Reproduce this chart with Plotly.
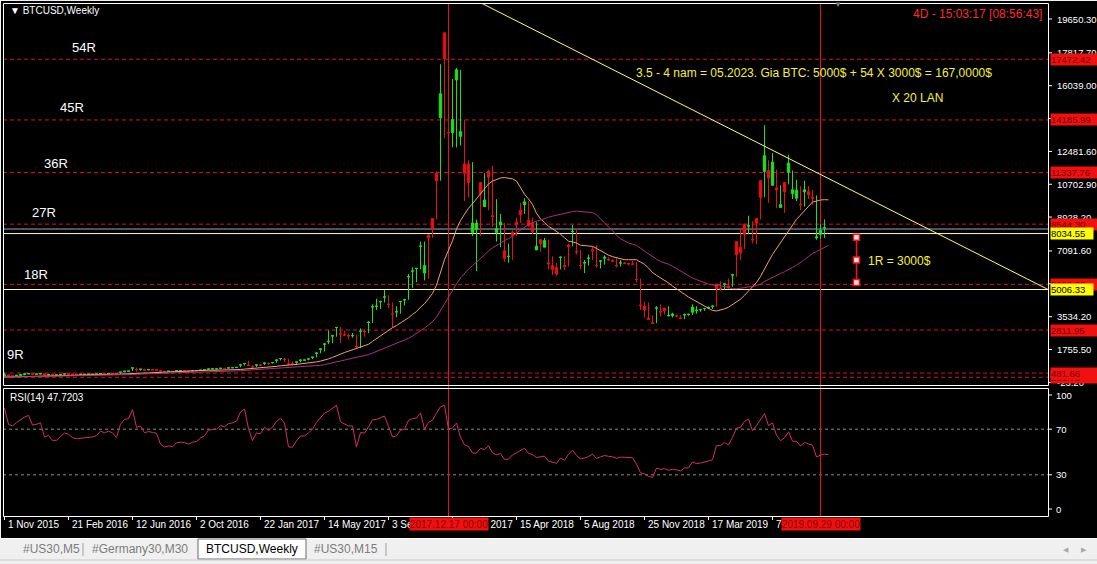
import pandas as pd
import plotly.graph_objects as go

W, H = 1097, 564
def px(x): return x / W
def py(y): return 1 - y / H

# ---------------- data (weekly BTCUSD bars, week starting Sunday) ----------------
first_week = "2015-06-28"
opens = [250,260,290,275,289,285,262,258,230,228,240,230,231,235,238,247,270,285,
 325,385,330,325,360,390,435,460,422,430,450,385,400,376,405,435,430,415,410,412,415,420,421,428,455,450,460,455,443,530,580,590,760,670,
 690,650,665,660,655,590,570,580,575,605,610,608,600,612,617,640,655,700,705,708,740,735,765,772,790,925,
 998,900,820,920,915,1020,995,1055,1180,1270,1230,970,965,1080,1180,1185,1250,1340,1560,1780,2050,2200,2500,2950,2600,2550,2500,2510,1920,2750,2730,3230,4070,4100,4350,4600,4200,3700,3800,4350,4450,5700,6000,6150,7350,5900,7950,8850,11300,14300,18900,13500,
 13500,16350,13300,11800,11800,8100,8250,10800,9500,11400,9000,8100,8500,7100,6800,8100,8650,9300,9600,8750,8600,7150,7700,7300,6450,6300,6200,6750,6300,7400,8150,7050,6300,6450,6700,7150,6300,6550,6700,6620,6550,6300,6450,6420,6400,6380,5550,4150,4100,3450,3200,4000,3800,
 4000,3580,3600,3580,3450,3630,3650,3780,3860,3900,3980,4010,4100,5300,5050,5300,5200,5800,7600,7300,8550,8450,7700,8850,10900,11400,11450,10650,10500,9450,10800,11350,10200,9950,9600,10300,10300,10000,7800,8000,8330]
highs = [265,310,295,292,298,286,272,260,236,242,245,235,240,241,250,275,290,335,
 495,390,340,370,392,470,470,465,435,460,455,420,402,385,410,440,440,440,420,420,420,425,425,430,460,465,465,465,458,535,590,600,780,780,
 700,710,680,680,665,660,600,590,590,615,630,612,610,615,620,645,660,720,740,720,750,745,775,775,790,930,
 1000,1150,920,925,930,1040,1050,1065,1200,1290,1290,1250,1100,1090,1210,1210,1280,1350,1610,1840,2100,2800,2550,2980,2980,2780,2620,2650,2550,2900,2850,3300,4200,4500,4400,4980,4700,4300,4100,4380,4500,5850,6200,6170,7600,7600,8000,8800,11400,17200,18100,19650,16400,
 17000,16900,14200,12000,11900,8800,10400,11300,11500,11700,9900,9100,8600,7500,8200,8900,9700,9950,9800,8900,8650,7750,7800,7700,6800,6450,6800,6800,7500,8500,8300,7150,6600,6900,7350,7400,6600,6850,6750,6650,6700,6600,6500,6450,6550,6500,5600,4350,4300,3600,4100,4200,3950,
 4100,3750,3650,3600,3700,3700,4200,4100,3950,4000,4100,4150,5100,5450,5350,5600,5850,7500,8300,8200,9000,8700,8800,10500,13900,12000,12400,11500,10650,10400,12300,11450,10950,10600,10900,10600,10400,10100,8550,8800,8420]
lows = [248,255,270,270,282,258,256,195,200,225,228,225,226,234,236,245,265,280,
 320,300,315,315,350,385,425,420,415,425,360,365,365,365,370,400,400,405,400,405,405,410,415,415,425,440,440,450,435,440,520,565,590,560,
 610,620,640,650,640,480,565,565,570,565,600,600,590,595,605,612,630,650,690,695,700,725,725,755,765,790,
 885,880,750,810,880,910,940,990,1045,1170,1100,950,890,930,1070,1160,1180,1240,1330,1550,1650,2050,2100,2450,2100,2500,2300,2400,1830,1830,2450,2650,3200,3900,3950,4300,4000,2950,3500,3700,4130,4450,5100,5400,6100,5500,5600,7800,8800,10900,13200,12600,12700,
 12700,12800,9800,10000,7900,6000,7900,9600,9300,8400,7600,7300,6500,6450,6600,7900,8600,9100,8400,8000,7300,7050,7550,6100,5800,5750,6100,6050,6250,7350,6900,6100,5900,6300,6600,6200,6150,6350,6550,6500,6200,6250,6400,6300,6350,5400,3900,3500,3350,3150,3180,3550,3650,
 3550,3500,3500,3400,3400,3580,3620,3700,3800,3850,3950,3950,4080,4950,5000,5050,5150,5700,6600,7200,8000,7500,7450,8800,10000,9700,11000,9400,9500,9150,10700,9900,9800,9300,9500,9900,9600,7700,7750,7800,8220]
closes = [260,290,275,289,285,262,258,230,228,240,230,231,235,238,247,270,285,325,
 385,330,325,360,390,435,460,422,430,450,385,400,375,376,405,435,430,415,410,412,415,420,421,428,455,450,460,455,443,530,580,590,760,670,
 690,650,665,660,655,590,570,580,575,605,610,608,600,612,617,640,655,700,705,708,740,735,765,772,790,925,998,
 900,820,920,915,1020,995,1055,1180,1270,1230,970,965,1080,1180,1185,1250,1340,1560,1780,2050,2200,2500,2950,2600,2550,2500,2510,1920,2750,2730,3230,4070,4100,4350,4600,4200,3700,3800,4350,4450,5700,6000,6150,7350,6300,7800,8300,10900,15600,17500,13500,14200,
 16900,13550,11300,10800,8600,8600,10200,9850,11100,8950,8300,8650,6700,6800,7950,8500,9050,9750,8450,8150,7350,7500,7650,6400,6100,5850,6750,6250,7350,8150,7050,6300,6450,6700,7100,6300,6550,6750,6620,6550,6300,6450,6420,6400,6380,5550,4150,3900,3400,3180,4000,3800,3850,
 3600,3680,3580,3450,3650,3660,4050,3880,3920,3980,4020,4100,5050,5050,5300,5150,5800,6900,7000,8000,8450,7700,8600,10000,12250,11050,11900,10400,9600,10300,11850,10400,10380,9600,10400,10150,9950,7850,8200,8350,8280]

ma_fast_period = 20
ma_slow_period = 40
rsi_period = 14

red_levels = [251.70, 481.66, 2811.95, 5283.28, 8544.30, 11337.76, 14185.99, 17472.42]
yellow_levels = [8034.55, 5006.33]
price_ticks = [19650.30, 17817.70, 16039.00, 14260.30, 12481.60, 10702.90, 8928.20, 7091.60, 5313.00, 3534.20, 1755.50, -23.20]
rsi_ticks = [100, 70, 30, 0]
rsi_levels = [70, 30]
rsi_label = "RSI(14) 47.7203"

vline_dates = ["2017-12-17", "2019-09-29"]
vline_labels = ["2017.12.17 00:00", "2019.09.29 00:00"]

time_tick_dates = ["2015-11-01", "2016-02-21", "2016-06-12", "2016-10-02", "2017-01-22", "2017-05-14",
                   "2017-09-03", "2017-12-24", "2018-04-15", "2018-08-05", "2018-11-25", "2019-03-17", "2019-07-07"]
time_tick_texts = ["1 Nov 2015", "21 Feb 2016", "12 Jun 2016", "2 Oct 2016", "22 Jan 2017", "14 May 2017",
                   "3 Sep 2017", "24 Dec 2017", "15 Apr 2018", "5 Aug 2018", "25 Nov 2018", "17 Mar 2019", "7 Jul 2019"]

trend_dates = ["2018-02-12", "2020-11-01"]
trend_prices = [20516, 4995]

r_marker_dates = ["2019-12-01", "2019-12-01", "2019-12-01"]
r_marker_prices = [7830, 6610, 5390]

r_texts = ["54R", "45R", "36R", "27R", "18R", "9R"]
r_text_pos = [(70, 47), (58, 108), (42, 163), (30, 212), (22, 274), (5, 354)]

note_main = "3.5 - 4 nam = 05.2023. Gia BTC: 5000$ + 54 X 3000$ = 167,0000$"
note_x20 = "X 20 LAN"
note_1r = "1R = 3000$"
timer_text = "4D - 15:03:17 [08:56:43]"
title_text = "▼ BTCUSD,Weekly"
tabs = ["#US30,M5", "#Germany30,M30", "BTCUSD,Weekly", "#US30,M15"]

# ---------------- derived indicators ----------------
weeks = pd.date_range(first_week, periods=len(closes), freq="7D")
close_s = pd.Series(closes, index=weeks, dtype=float)
ma_fast = close_s.rolling(ma_fast_period, min_periods=1).mean()
ma_slow = close_s.rolling(ma_slow_period, min_periods=1).mean()
delta = close_s.diff()
gain = delta.clip(lower=0)
loss = -delta.clip(upper=0)
ag = gain.ewm(alpha=1 / rsi_period, adjust=False).mean()
al = loss.ewm(alpha=1 / rsi_period, adjust=False).mean()
rsi = 100 - 100 / (1 + ag / al)

# ---------------- pixel <-> axis mapping (layout) ----------------
origin = pd.Timestamp("2015-11-01")
def xdate(X): return origin + pd.Timedelta(days=(X - 4.5) * 7 / 4)
def yprice(Y): return 19650.30 - (Y - 19) / 0.018472
def yrsi(Y): return 100 - (Y - 395) / 1.14

FONT = "Liberation Sans, Arial, sans-serif"
GREEN = "#1fe01f"
RED = "#ea1010"
LVL_RED = "#d8102c"

fig = go.Figure()
fig.add_trace(go.Candlestick(
    x=weeks, open=opens, high=highs, low=lows, close=closes,
    increasing=dict(line=dict(color=GREEN, width=1), fillcolor=GREEN),
    decreasing=dict(line=dict(color=RED, width=1), fillcolor=RED),
    whiskerwidth=0, hoverinfo="skip", xaxis="x", yaxis="y"))
fig.add_trace(go.Scatter(x=weeks, y=ma_fast, mode="lines", line=dict(color="#f4a468", width=1),
                         hoverinfo="skip", xaxis="x", yaxis="y"))
fig.add_trace(go.Scatter(x=weeks, y=ma_slow, mode="lines", line=dict(color="#a8327e", width=1),
                         hoverinfo="skip", xaxis="x", yaxis="y"))
fig.add_trace(go.Scatter(x=trend_dates, y=trend_prices, mode="lines", line=dict(color="#ffff60", width=1),
                         hoverinfo="skip", xaxis="x", yaxis="y"))
fig.add_trace(go.Scatter(x=r_marker_dates, y=r_marker_prices, mode="lines+markers",
                         line=dict(color="#ff1010", width=1.5),
                         marker=dict(symbol="square", size=6, color="#ffe8e8", line=dict(color="#ff1010", width=1.5)),
                         hoverinfo="skip", xaxis="x", yaxis="y"))
fig.add_trace(go.Scatter(x=weeks, y=rsi, mode="lines", line=dict(color="#d0306c", width=1),
                         hoverinfo="skip", xaxis="x2", yaxis="y2"))

shapes = []
# chart background
shapes.append(dict(type="rect", xref="paper", yref="paper", x0=px(1), x1=px(1097), y0=py(538), y1=py(1),
                   fillcolor="black", line=dict(width=0), layer="below"))
# level lines
for p in red_levels:
    shapes.append(dict(type="line", xref="paper", yref="y", x0=px(3), x1=px(1048), y0=p, y1=p,
                       line=dict(color=LVL_RED, width=1, dash="4px,3px"), layer="below"))
for p in yellow_levels:
    shapes.append(dict(type="line", xref="paper", yref="y", x0=px(3), x1=px(1048), y0=p, y1=p,
                       line=dict(color="#ffffa8", width=1), layer="below"))
shapes.append(dict(type="line", xref="paper", yref="y", x0=px(3), x1=px(1048), y0=closes[-1], y1=closes[-1],
                   line=dict(color="#9ea4c4", width=1), layer="below"))
for v in rsi_levels:
    shapes.append(dict(type="line", xref="paper", yref="y2", x0=px(3), x1=px(1048), y0=v, y1=v,
                       line=dict(color="#8a8a8a", width=1, dash="3px,3px"), layer="below"))
# vertical red lines
for d in vline_dates:
    shapes.append(dict(type="line", xref="x", yref="paper", x0=d, x1=d, y0=py(517), y1=py(3),
                       line=dict(color="#e8101c", width=1), layer="below"))
# panel borders
shapes.append(dict(type="rect", xref="paper", yref="paper", x0=px(3.5), x1=px(1048.5), y0=py(385.5), y1=py(3.5),
                   line=dict(color="white", width=1)))
shapes.append(dict(type="rect", xref="paper", yref="paper", x0=px(3.5), x1=px(1048.5), y0=py(516.5), y1=py(388.5),
                   line=dict(color="white", width=1)))
# price axis tick marks
for v in price_ticks:
    shapes.append(dict(type="line", xref="paper", yref="y", x0=px(1049), x1=px(1052), y0=v, y1=v,
                       line=dict(color="white", width=1)))
for v in rsi_ticks:
    shapes.append(dict(type="line", xref="paper", yref="y2", x0=px(1049), x1=px(1052), y0=v, y1=v,
                       line=dict(color="white", width=1)))
# time tick marks
for d in time_tick_dates:
    shapes.append(dict(type="line", xref="x2", yref="paper", x0=d, x1=d, y0=py(520), y1=py(516),
                       line=dict(color="white", width=1)))
# tab bar
shapes.append(dict(type="line", xref="paper", yref="paper", x0=0, x1=1, y0=py(538.5), y1=py(538.5),
                   line=dict(color="#ffffff", width=1)))
shapes.append(dict(type="rect", xref="paper", yref="paper", x0=px(198), x1=px(306), y0=py(559), y1=py(539),
                   fillcolor="white", line=dict(color="#6a6a6a", width=1)))
for xs in (83, 386):
    shapes.append(dict(type="line", xref="paper", yref="paper", x0=px(xs), x1=px(xs), y0=py(556), y1=py(543),
                       line=dict(color="#a0a0a0", width=1)))
shapes.append(dict(type="line", xref="paper", yref="paper", x0=0, x1=1, y0=py(560), y1=py(560),
                   line=dict(color="#c8c8c8", width=1)))

ann = []
def A(**k):
    base = dict(showarrow=False, font=dict(family=FONT, size=10, color="white"))
    f = k.pop("font", {})
    base["font"].update(f)
    base.update(k)
    ann.append(base)

A(text=title_text, xref="paper", yref="paper", x=px(8), y=py(11), xanchor="left", yanchor="middle", font=dict(size=10))
A(text=timer_text, xref="paper", yref="paper", x=px(1044), y=py(14), xanchor="right", yanchor="middle",
  font=dict(size=12, color="#ff2a2a"))
A(text="▼", xref="paper", yref="paper", x=px(838), y=py(5), xanchor="center", yanchor="middle",
  font=dict(size=8, color="#808080"))
for t, (xx, yy) in zip(r_texts, r_text_pos):
    A(text=t, xref="paper", yref="paper", x=px(xx), y=py(yy), xanchor="left", yanchor="middle", font=dict(size=13))
A(text=note_main, xref="paper", yref="paper", x=px(634), y=py(73), xanchor="left", yanchor="middle",
  font=dict(size=12, color="#f6f03c"))
A(text=note_x20, xref="paper", yref="paper", x=px(890), y=py(98), xanchor="left", yanchor="middle",
  font=dict(size=12, color="#f6f03c"))
A(text=note_1r, xref="paper", yref="paper", x=px(866), y=py(261), xanchor="left", yanchor="middle",
  font=dict(size=12, color="#f6f03c"))
A(text=rsi_label, xref="paper", yref="paper", x=px(8), y=py(397), xanchor="left", yanchor="middle", font=dict(size=10))

# price axis labels
for v in price_ticks:
    A(text=f"{v:.2f}", xref="paper", yref="y", x=px(1055), y=v, xanchor="left", yanchor="middle", font=dict(size=9.5))
for p in red_levels:
    A(text=f"{p:.2f}", xref="paper", yref="y", x=px(1050), y=p, xanchor="left", yanchor="middle",
      bgcolor="#f01010", width=46, height=11, align="left", borderpad=0, font=dict(size=9.5, color="#7a0000"))
for p in yellow_levels:
    A(text=f"{p:.2f}", xref="paper", yref="y", x=px(1050), y=p, xanchor="left", yanchor="middle",
      bgcolor="#ffff00", width=42, height=11, align="left", borderpad=0, font=dict(size=9.5, color="black"))
for v in rsi_ticks:
    A(text=f"{v}", xref="paper", yref="y2", x=px(1054), y=v, xanchor="left", yanchor="middle", font=dict(size=9.5))

# time axis labels
for d, t in zip(time_tick_dates, time_tick_texts):
    A(text=t, xref="x2", yref="paper", x=d, y=py(524), xanchor="left", yanchor="middle", xshift=1, font=dict(size=10))
for d, t in zip(vline_dates, vline_labels):
    A(text=t, xref="x2", yref="paper", x=d, y=py(524), xanchor="center", yanchor="middle",
      bgcolor="#f01010", width=78, height=12, borderpad=0, font=dict(size=10, color="#8a0000"))

# tabs
tab_x = [51, 140, 252, 346]
for t, xx in zip(tabs, tab_x):
    A(text=t, xref="paper", yref="paper", x=px(xx), y=py(549), xanchor="center", yanchor="middle",
      font=dict(size=12, color="black" if t == "BTCUSD,Weekly" else "#7c7c7c"))
A(text="◀", xref="paper", yref="paper", x=px(1066), y=py(549), xanchor="center", yanchor="middle",
  font=dict(size=7, color="#a8a8a8"))
A(text="▶", xref="paper", yref="paper", x=px(1084), y=py(549), xanchor="center", yanchor="middle",
  font=dict(size=7, color="#a8a8a8"))

xr = [xdate(3), xdate(1048)]
fig.update_layout(
    width=W, height=H, autosize=False, margin=dict(l=0, r=0, t=0, b=0),
    paper_bgcolor="#f0f0f0", plot_bgcolor="rgba(0,0,0,0)", showlegend=False,
    boxgap=0.15, hovermode=False,
    xaxis=dict(domain=[px(3), px(1048)], range=xr, showticklabels=False, showgrid=False, zeroline=False,
               rangeslider=dict(visible=False), anchor="y", fixedrange=True),
    yaxis=dict(domain=[py(386), py(3)], range=[yprice(386), yprice(3)], showticklabels=False, showgrid=False,
               zeroline=False, anchor="x"),
    xaxis2=dict(domain=[px(3), px(1048)], range=xr, matches="x", showticklabels=False, showgrid=False,
                zeroline=False, anchor="y2"),
    yaxis2=dict(domain=[py(516), py(388)], range=[yrsi(516), yrsi(388)], showticklabels=False, showgrid=False,
                zeroline=False, anchor="x2"),
    shapes=shapes, annotations=ann,
)
fig.write_html("out.html", config={"displayModeBar": False, "staticPlot": True},
               post_script="document.body.style.margin='0';document.body.style.padding='0';"
                           "document.body.style.overflow='hidden';document.documentElement.style.overflow='hidden';")
